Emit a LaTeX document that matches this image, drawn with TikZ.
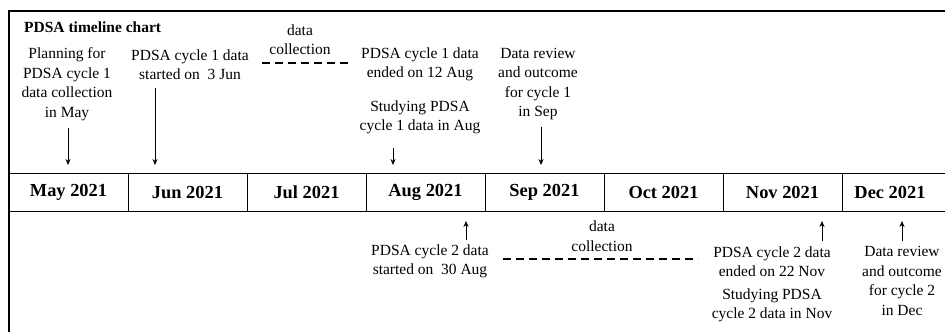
\documentclass[tikz,border=0pt]{standalone}
\usepackage{fontspec}
\setmainfont{Liberation Serif}
\usetikzlibrary{arrows.meta,positioning}

\begin{document}
\begin{tikzpicture}[x=1pt,y=-1pt,
    note/.style={align=center, inner sep=0pt, font=\fontsize{15.5}{19.5}\selectfont},
    month/.style={inner sep=0pt, font=\fontsize{18.4}{22}\selectfont\bfseries},
    pointer/.style={-{Stealth[length=6pt,width=5pt]}, line width=0.6pt},
    collect/.style={line width=1.5pt, dash pattern=on 8pt off 5pt}]
  \useasboundingbox (0,0) rectangle (945,332);
  % frame and month band
  \draw[line width=1.6pt] (9,332) -- (9,11) -- (945,11);
  \draw[line width=1pt] (9,173) -- (945,173) (9,211) -- (945,211);
  \foreach \x in {128,247,...,842}
    \draw[line width=1pt] (\x,173) -- (\x,211);
  \foreach \x/\m [count=\i] in {68.5/May,187.5/Jun,306.5/Jul,425.5/Aug,544.5/Sep,663.5/Oct,782.5/Nov,890/Dec}
    \node[month] (m\i) at (\x,192) {\m\ 2021};

  \node[anchor=west, inner sep=0pt, font=\fontsize{15.5}{19}\selectfont\bfseries] (title) at (24,27) {PDSA timeline chart};

  % cycle 1 (above the band)
  \node[note] (plan) at (67,84) {Planning for\\PDSA cycle 1\\data collection\\in May};
  \node[note] (start1) at (190,64.5) {PDSA cycle 1 data\\started on \ 3 Jun};
  \node[note] (coll1) at (300,39.5) {data\\collection};
  \node[note] (end1) at (420,64.5) {PDSA cycle 1 data\\ended on 12 Aug};
  \node[note] (study1) at (420,117.5) {Studying PDSA\\cycle 1 data in Aug};
  \node[note] (review1) at (538,84) {Data review\\and outcome\\for cycle 1\\in Sep};
  \coordinate (t1) at (68,165);
  \coordinate (t2) at (155,165);
  \coordinate (t3) at (393,165);
  \coordinate (t4) at (541,165);
  \draw[pointer, shorten <=7pt] (plan.south -| t1) -- (t1);
  \draw[pointer, shorten <=8pt] (start1.south -| t2) -- (t2);
  \draw[pointer, shorten <=13pt] (study1.south -| t3) -- (t3);
  \draw[pointer, shorten <=7pt] (review1.south -| t4) -- (t4);
  \coordinate (d1a) at (262,63);
  \coordinate (d1b) at (350,63);
  \draw[collect] (d1a) -- (d1b);

  % cycle 2 (below the band)
  \node[note] (start2) at (430,261.5) {PDSA cycle 2 data\\started on \ 30 Aug};
  \node[note] (coll2) at (602,236) {data\\collection};
  \node[note] (end2) at (772,261.5) {PDSA cycle 2 data\\ended on 22 Nov};
  \node[note] (study2) at (772,305.5) {Studying PDSA\\cycle 2 data in Nov};
  \node[note] (review2) at (902,281) {Data review\\and outcome\\for cycle 2\\in Dec};
  \coordinate (b1) at (466,221);
  \coordinate (b2) at (822,221);
  \coordinate (b3) at (902,221);
  \draw[pointer, shorten <=5pt] (start2.north -| b1) -- (b1);
  \draw[pointer, shorten <=5pt] (end2.north -| b2) -- (b2);
  \draw[pointer, shorten <=5pt] (review2.north -| b3) -- (b3);
  \coordinate (d2a) at (503,259);
  \coordinate (d2b) at (698,259);
  \draw[collect] (d2a) -- (d2b);
\end{tikzpicture}
\end{document}
